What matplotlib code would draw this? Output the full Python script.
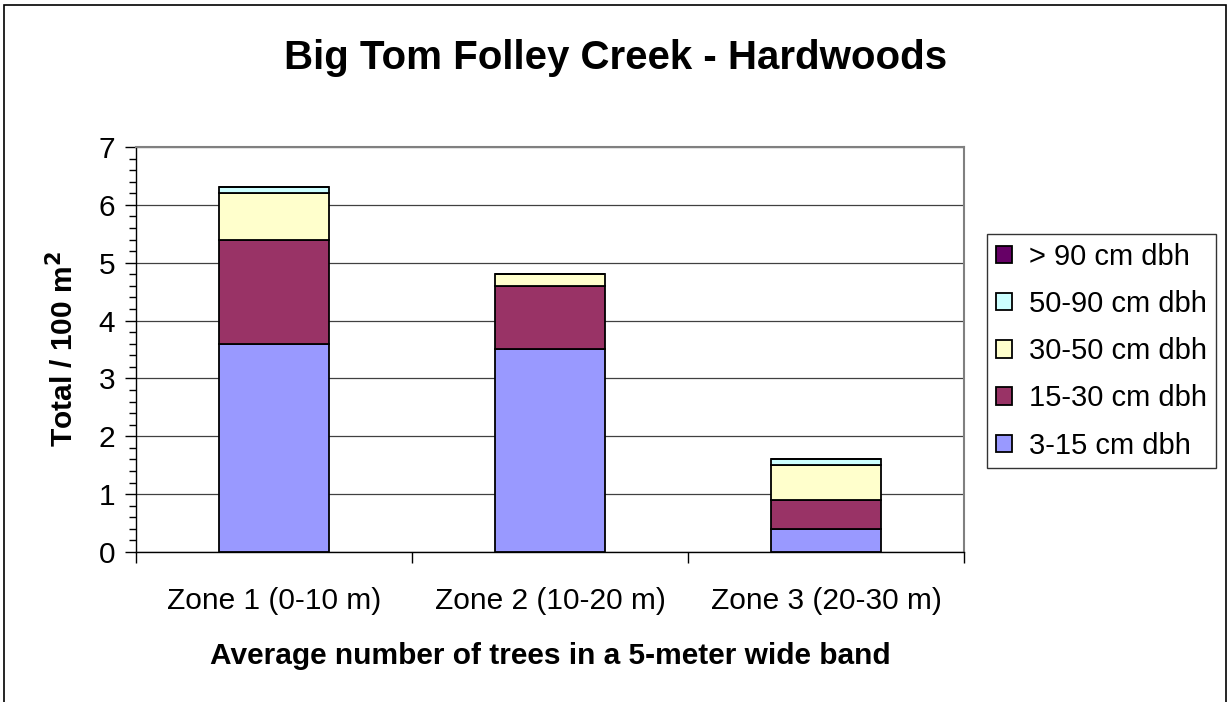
import numpy as np
import matplotlib.pyplot as plt
from matplotlib.patches import Rectangle
from matplotlib.ticker import MultipleLocator, FixedLocator

plt.rcParams['font.family'] = ['Liberation Sans', 'DejaVu Sans']

zones = ['Zone 1 (0-10 m)', 'Zone 2 (10-20 m)', 'Zone 3 (20-30 m)']
size_classes = ['3-15 cm dbh', '15-30 cm dbh', '30-50 cm dbh', '50-90 cm dbh', '> 90 cm dbh']
dbh_3_15 = [3.6, 3.5, 0.4]
dbh_15_30 = [1.8, 1.1, 0.5]
dbh_30_50 = [0.8, 0.2, 0.6]
dbh_50_90 = [0.1, 0.0, 0.1]
dbh_90_up = [0.0, 0.0, 0.0]
colors = ['#9999FF', '#993366', '#FFFFCC', '#CCFFFF', '#660066']

fig = plt.figure(figsize=(12.28, 7.02), dpi=100)
ax = fig.add_axes([0.1107, 0.2137, 0.6743, 0.5769])

# outer chart frame
fig.patches.append(Rectangle((4 / 1228, -0.05), 1222 / 1228, 1.05 - 5 / 702,
                             transform=fig.transFigure, fill=False,
                             edgecolor='black', linewidth=1.2))

x = np.arange(len(zones))
bottom = np.zeros(len(zones))
handles = []
for vals, name, col in zip([dbh_3_15, dbh_15_30, dbh_30_50, dbh_50_90, dbh_90_up],
                           size_classes, colors):
    vals = np.array(vals)
    h = ax.bar(x, vals, 0.4, bottom=bottom, color=col, edgecolor='black',
               linewidth=1.3, label=name, zorder=3)
    handles.append(h)
    bottom += vals

ax.set_xlim(-0.5, 2.5)
ax.set_ylim(0, 7)
ax.yaxis.set_major_locator(MultipleLocator(1))
ax.yaxis.set_minor_locator(MultipleLocator(0.2))
ax.grid(axis='y', which='major', color='#404040', linewidth=0.9, zorder=0)

ax.set_xticks(x)
ax.set_xticklabels(zones, fontsize=21.5)
ax.xaxis.set_minor_locator(FixedLocator([-0.5, 0.5, 1.5, 2.5]))
ax.tick_params(axis='x', which='major', length=0, pad=25)
ax.tick_params(axis='x', which='minor', length=8, width=1, color='black')
ax.tick_params(axis='y', which='major', length=8, width=1, labelsize=21.5, pad=7)
ax.tick_params(axis='y', which='minor', length=5, width=1)

for side in ['top', 'right']:
    ax.spines[side].set_color('#808080')
    ax.spines[side].set_linewidth(1.5)
for side in ['left', 'bottom']:
    ax.spines[side].set_color('black')
    ax.spines[side].set_linewidth(1.0)

ax.set_ylabel('Total / 100 m$^\\mathbf{2}$', fontsize=21.5, fontweight='bold', labelpad=14)
ax.set_xlabel('Average number of trees in a 5-meter wide band', fontsize=21.5,
              fontweight='bold', labelpad=20)
fig.text(0.5016, 0.917, 'Big Tom Folley Creek - Hardwoods', ha='center', va='center',
         fontsize=29, fontweight='bold')

leg = fig.legend(handles[::-1], size_classes[::-1], loc='upper left',
                 bbox_to_anchor=(987 / 1228, 1 - 234 / 702), fontsize=21,
                 frameon=True, fancybox=False, edgecolor='black',
                 handlelength=0.55, handleheight=0.55, handletextpad=0.6,
                 labelspacing=0.66, borderpad=0.3, borderaxespad=0)
leg.get_frame().set_linewidth(1.0)

fig.savefig('out.png', dpi=100)
